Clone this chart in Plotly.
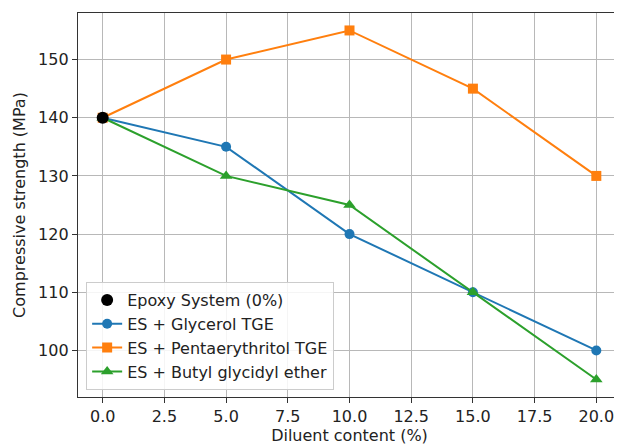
import plotly.graph_objects as go

diluent = [0, 5, 10, 15, 20]
glycerol = [140, 135, 120, 110, 100]
penta = [140, 150, 155, 145, 130]
butyl = [140, 130, 125, 110, 95]
base_x = [0]
base_y = [140]

x_ticks = [0, 2.5, 5, 7.5, 10, 12.5, 15, 17.5, 20]
x_labels = ["0.0", "2.5", "5.0", "7.5", "10.0", "12.5", "15.0", "17.5", "20.0"]

fig = go.Figure()
fig.add_trace(go.Scatter(x=diluent, y=glycerol, mode="lines+markers", name="ES + Glycerol TGE",
                         line=dict(color="#1f77b4", width=2), marker=dict(symbol="circle", size=10),
                         legendrank=2))
fig.add_trace(go.Scatter(x=diluent, y=penta, mode="lines+markers", name="ES + Pentaerythritol TGE",
                         line=dict(color="#ff7f0e", width=2), marker=dict(symbol="square", size=10),
                         legendrank=3))
fig.add_trace(go.Scatter(x=diluent, y=butyl, mode="lines+markers", name="ES + Butyl glycidyl ether",
                         line=dict(color="#2ca02c", width=2), marker=dict(symbol="triangle-up", size=11),
                         legendrank=4))
fig.add_trace(go.Scatter(x=base_x, y=base_y, mode="markers", name="Epoxy System (0%)",
                         marker=dict(color="black", symbol="circle", size=12), legendrank=1))

axis_common = dict(showline=True, linecolor="#333333", linewidth=1.3, mirror=True,
                   ticks="outside", ticklen=5, tickcolor="#333333", tickwidth=1.2,
                   showgrid=True, gridcolor="#b8b8b8", gridwidth=1.2, zeroline=False,
                   tickfont=dict(family="DejaVu Sans", size=16, color="#222222"))

fig.update_layout(
    width=614, height=438,
    margin=dict(l=70, r=1, t=5, b=49),
    plot_bgcolor="white", paper_bgcolor="white",
    font=dict(family="DejaVu Sans", size=16, color="#222222"),
    xaxis=dict(range=[-1, 21], tickvals=x_ticks, ticktext=x_labels,
               title=dict(text="Diluent content (%)", font=dict(size=16), standoff=4), **axis_common),
    yaxis=dict(range=[92, 158], dtick=10, tick0=100,
               title=dict(text="Compressive strength (MPa)", font=dict(size=16), standoff=8), **axis_common),
    legend=dict(x=0.015, y=0.018, xanchor="left", yanchor="bottom",
                bgcolor="rgba(255,255,255,0.85)", bordercolor="#cccccc", borderwidth=1,
                font=dict(family="DejaVu Sans", size=16, color="#222222"),
                tracegroupgap=0, itemwidth=30),
    showlegend=True,
)

fig.write_html("out.html")
